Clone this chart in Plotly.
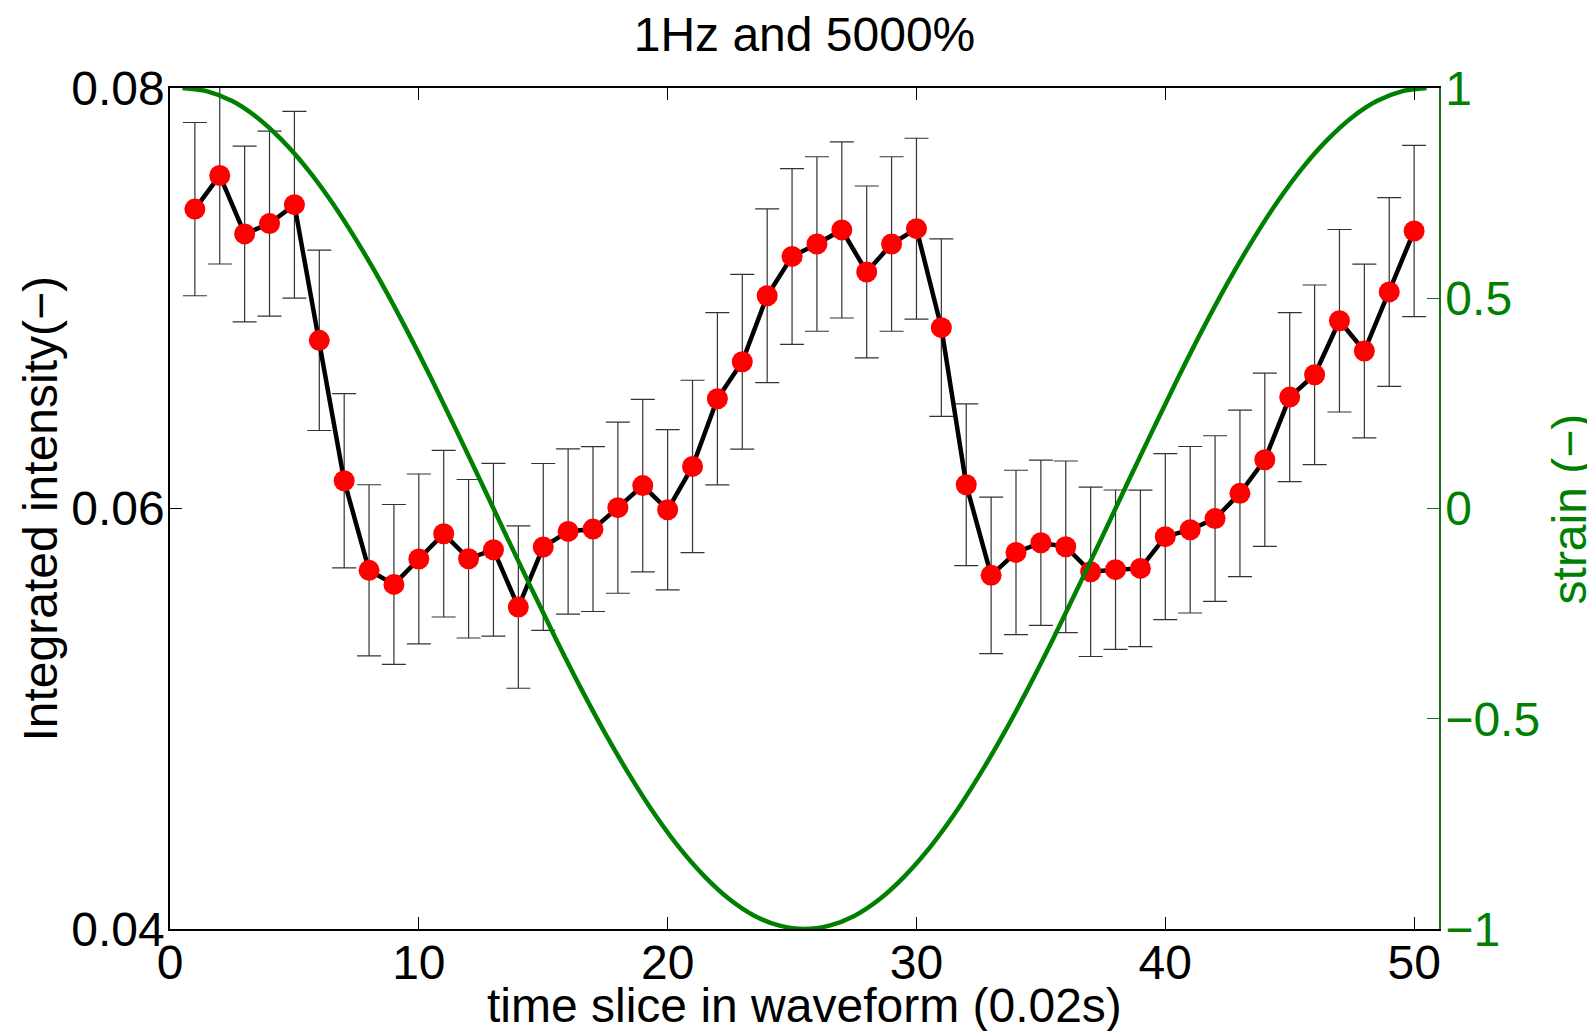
import plotly.graph_objects as go

# ---- data ----
time_slice = list(range(1, 51))
intensity = [0.07424, 0.07584, 0.07306, 0.07355, 0.07445, 0.06800, 0.06132, 0.05706, 0.05639, 0.05760,
             0.05880, 0.05761, 0.05804, 0.05531, 0.05817, 0.05891, 0.05902, 0.06004, 0.06109, 0.05994,
             0.06200, 0.06522, 0.06698, 0.07012, 0.07199, 0.07258, 0.07325, 0.07125, 0.07258, 0.07331,
             0.06860, 0.06113, 0.05682, 0.05791, 0.05837, 0.05818, 0.05699, 0.05709, 0.05715, 0.05866,
             0.05899, 0.05952, 0.06072, 0.06232, 0.06530, 0.06636, 0.06893, 0.06749, 0.07030, 0.07320]
intensity_err = [0.00412, 0.00421, 0.00418, 0.00440, 0.00444, 0.00429, 0.00414, 0.00407, 0.00380, 0.00404,
                 0.00396, 0.00377, 0.00411, 0.00386, 0.00397, 0.00393, 0.00392, 0.00407, 0.00410, 0.00381,
                 0.00410, 0.00410, 0.00416, 0.00413, 0.00418, 0.00415, 0.00419, 0.00409, 0.00415, 0.00430,
                 0.00422, 0.00385, 0.00372, 0.00391, 0.00393, 0.00408, 0.00403, 0.00379, 0.00372, 0.00395,
                 0.00396, 0.00394, 0.00396, 0.00412, 0.00402, 0.00427, 0.00434, 0.00413, 0.00449, 0.00407]

strain_t = [0.5, 1.5, 2.5, 3.5, 4.5, 5.5, 6.5, 7.5, 8.5, 9.5, 10.5, 11.5, 12.5, 13.5, 14.5, 15.5, 16.5,
            17.5, 18.5, 19.5, 20.5, 21.5, 22.5, 23.5, 24.5, 25.5, 26.5, 27.5, 28.5, 29.5, 30.5, 31.5, 32.5,
            33.5, 34.5, 35.5, 36.5, 37.5, 38.5, 39.5, 40.5, 41.5, 42.5, 43.5, 44.5, 45.5, 46.5, 47.5, 48.5,
            49.5, 50.5]
strain = [1.000, 0.992, 0.969, 0.930, 0.876, 0.809, 0.729, 0.637, 0.536, 0.426, 0.309, 0.187, 0.063,
          -0.063, -0.187, -0.309, -0.426, -0.536, -0.637, -0.729, -0.809, -0.876, -0.930, -0.969, -0.992,
          -1.000, -0.992, -0.969, -0.930, -0.876, -0.809, -0.729, -0.637, -0.536, -0.426, -0.309, -0.187,
          -0.063, 0.063, 0.187, 0.309, 0.426, 0.536, 0.637, 0.729, 0.809, 0.876, 0.930, 0.969, 0.992, 1.000]

x_ticks = [0, 10, 20, 30, 40, 50]
y_ticks = [0.04, 0.06, 0.08]
y_ticktext = ["0.04", "0.06", "0.08"]
y2_ticks = [-1, -0.5, 0, 0.5, 1]
y2_ticktext = ["\u22121", "\u22120.5", "0", "0.5", "1"]

title_text = "1Hz and 5000%"
x_title = "time slice in waveform (0.02s)"
y_title = "Integrated intensity(\u2212)"
y2_title = "strain (\u2212)"

FONT = "Liberation Sans, Arial, Helvetica, sans-serif"
FS = 48
GREEN = "#008000"
GREEN_AXIS = "#1d6b1d"

fig = go.Figure()
fig.add_trace(go.Scatter(
    x=time_slice, y=intensity, mode="lines+markers",
    line=dict(color="black", width=4.5),
    marker=dict(color="#ff0000", size=21, line=dict(width=0)),
    error_y=dict(type="data", array=intensity_err, visible=True,
                 color="#333333", thickness=1.2, width=12),
    showlegend=False, yaxis="y"))
fig.add_trace(go.Scatter(
    x=strain_t, y=strain, mode="lines",
    line=dict(color=GREEN, width=4.5, shape="spline"),
    showlegend=False, yaxis="y2"))

fig.update_layout(
    width=1595, height=1031,
    margin=dict(l=162, r=164, t=80, b=110, autoexpand=False),
    paper_bgcolor="white", plot_bgcolor="white",
    font=dict(family=FONT, size=FS, color="black"),
    title=dict(text=title_text, x=0.5, xanchor="center", xref="paper",
               y=0.9745, yref="container", yanchor="middle",
               font=dict(family=FONT, size=FS, color="black")),
    xaxis=dict(range=[0, 51], tickvals=x_ticks, ticks="inside", ticklen=12, tickcolor="black",
               showline=True, linecolor="black", linewidth=1.5, mirror="ticks",
               showgrid=False, zeroline=False, ticklabelstandoff=-9,
               tickfont=dict(family=FONT, size=FS, color="black")),
    yaxis=dict(range=[0.04, 0.08], tickvals=y_ticks, ticktext=y_ticktext, ticks="inside",
               ticklen=12, tickcolor="black",
               showline=True, linecolor="black", linewidth=1.5,
               showgrid=False, zeroline=False, ticklabelstandoff=-6,
               tickfont=dict(family=FONT, size=FS, color="black")),
    yaxis2=dict(range=[-1, 1], tickvals=y2_ticks, ticktext=y2_ticktext, overlaying="y", side="right",
                ticks="inside", ticklen=12, tickcolor=GREEN_AXIS,
                showline=True, linecolor=GREEN_AXIS, linewidth=1.5,
                showgrid=False, zeroline=False, ticklabelstandoff=-5,
                tickfont=dict(family=FONT, size=FS, color=GREEN)),
    annotations=[
        dict(text=x_title, xref="paper", yref="paper", x=0.5, y=-0.0905,
             xanchor="center", yanchor="middle", showarrow=False,
             font=dict(family=FONT, size=FS, color="black")),
        dict(text=y_title, xref="paper", yref="paper", x=-0.1024, y=0.5, textangle=-90,
             xanchor="center", yanchor="middle", showarrow=False,
             font=dict(family=FONT, size=FS, color="black")),
        dict(text=y2_title, xref="paper", yref="paper", x=1.1032, y=0.5, textangle=-90,
             xanchor="center", yanchor="middle", showarrow=False,
             font=dict(family=FONT, size=FS, color=GREEN)),
    ],
)

fig.write_html("out.html")
